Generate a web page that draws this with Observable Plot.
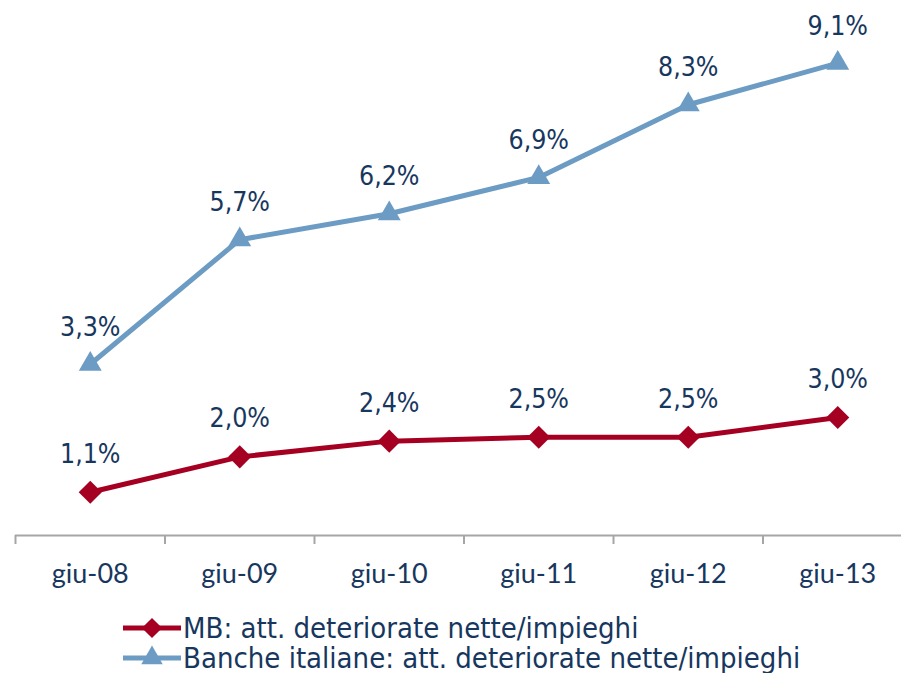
<!DOCTYPE html>
<html>
<head>
<meta charset="utf-8">
<script src="https://cdn.jsdelivr.net/npm/d3@7"></script>
<script src="https://cdn.jsdelivr.net/npm/@observablehq/plot@0.6"></script>
<style>
  html, body { margin: 0; padding: 0; background: #fff; }
  #chart svg { display: block; }
  .legend { font-family: "DejaVu Sans Condensed", "DejaVu Sans", sans-serif; font-size: 29px; color: #17375e; }
  .legend .row { display: flex; align-items: center; height: 30px; }
  .legend .row span { line-height: 30px; height: 30px; display: block; }
  .legend svg { display: block; }
</style>
</head>
<body>
<div id="chart"></div>
<div class="legend" id="legend"></div>
<script>
const categories = ["giu-08", "giu-09", "giu-10", "giu-11", "giu-12", "giu-13"];
const mbValues = [1.1, 2.0, 2.4, 2.5, 2.5, 3.0];
const bancheValues = [3.3, 5.7, 6.2, 6.9, 8.3, 9.1];
const seriesNames = ["MB: att. deteriorate nette/impieghi", "Banche italiane: att. deteriorate nette/impieghi"];

const RED = "#a50021";
const BLUE = "#6c9bc3";
const NAVY = "#17375e";
const GRAY = "#a6a6a6";

// primary axis (Banche) 0..10, secondary axis (MB) 0..13.2, both hidden
const primaryMax = 10;
const secondaryMax = 13.2;
const toPrimary = v => v * primaryMax / secondaryMax;

const fmt = v => v.toFixed(1).replace(".", ",") + "%";

const mb = mbValues.map((v, i) => ({i, v, y: toPrimary(v), label: fmt(v)}));
const banche = bancheValues.map((v, i) => ({i, v, y: v, label: fmt(v)}));
const boundaries = d3.range(categories.length + 1).map(i => i - 0.5);

const labelFont = {fontFamily: "'DejaVu Sans Condensed', 'DejaVu Sans', sans-serif", fontSize: 26.5, fill: NAVY};

const chart = Plot.plot({
  width: 901,
  height: 600,
  marginLeft: 15,
  marginRight: 0,
  marginTop: 16,
  marginBottom: 65,
  x: {type: "linear", domain: [-0.5, categories.length - 0.5], range: [15, 912], label: null},
  y: {domain: [0, primaryMax], axis: null, label: null},
  marks: [
    Plot.ruleY([0], {stroke: GRAY, strokeWidth: 2}),
    Plot.axisX({ticks: boundaries, tickFormat: () => "", tickSize: 9, stroke: GRAY, strokeWidth: 2, strokeOpacity: 1, label: null}),
    Plot.axisX({ticks: d3.range(categories.length), tickFormat: i => categories[i], tickSize: 0, tickPadding: 28, fontSize: 27, fontFamily: "Lato, sans-serif", fill: NAVY, label: null}),
    Plot.line(banche, {x: "i", y: "y", stroke: BLUE, strokeWidth: 5}),
    Plot.dot(banche, {x: "i", y: "y", symbol: "triangle", r: 8.5, fill: BLUE, stroke: null}),
    Plot.text(banche, {x: "i", y: "y", text: "label", dy: -37, ...labelFont}),
    Plot.line(mb, {x: "i", y: "y", stroke: RED, strokeWidth: 5}),
    Plot.dot(mb, {x: "i", y: "y", symbol: "diamond2", r: 10.4, fill: RED, stroke: null}),
    Plot.text(mb, {x: "i", y: "y", text: "label", dy: -38, ...labelFont})
  ]
});
document.getElementById("chart").appendChild(chart);

// legend
const legend = d3.select("#legend").style("padding-top", "13px");
const swatches = [
  {name: seriesNames[0], color: RED, symbol: d3.symbolDiamond2, size: 260},
  {name: seriesNames[1], color: BLUE, symbol: d3.symbolTriangle, size: 200}
];
for (const s of swatches) {
  const row = legend.append("div").attr("class", "row");
  row.append("div").style("width", "123px");
  const svg = row.append("svg").attr("width", 58).attr("height", 30);
  svg.append("line").attr("x1", 0).attr("x2", 58).attr("y1", 15).attr("y2", 15)
    .attr("stroke", s.color).attr("stroke-width", 5);
  svg.append("path").attr("transform", "translate(29,15)")
    .attr("d", d3.symbol(s.symbol, s.size)()).attr("fill", s.color);
  row.append("span").style("margin-left", "2px").text(s.name);
}
</script>
</body>
</html>
